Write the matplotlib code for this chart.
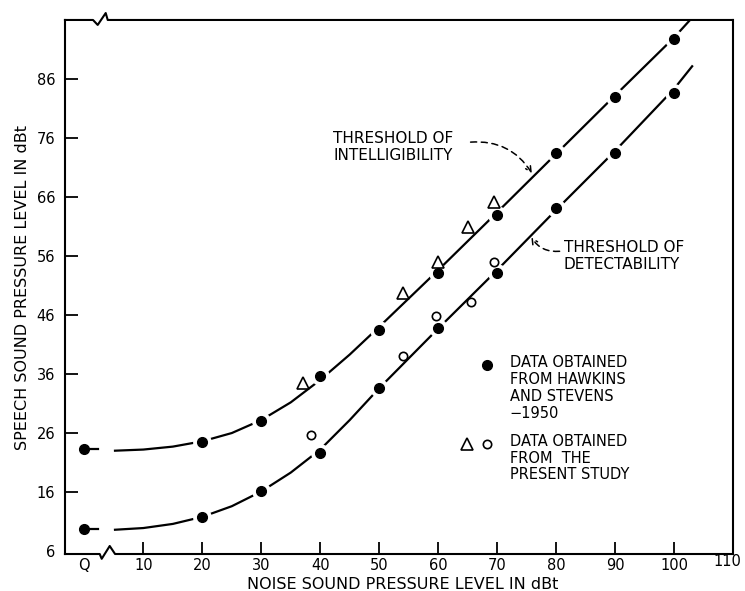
import matplotlib.pyplot as plt
import matplotlib.transforms as mtransforms
import numpy as np

# noise level axis (Q = quiet)
x_ticks = [0, 10, 20, 30, 40, 50, 60, 70, 80, 90, 100, 110]
x_labels = ['Q', '10', '20', '30', '40', '50', '60', '70', '80', '90', '100', '110']
y_ticks = [6, 16, 26, 36, 46, 56, 66, 76, 86]

# Hawkins and Stevens 1950 (filled dots)
hs_x = [0, 20, 30, 40, 50, 60, 70, 80, 90, 100]
hs_intel = [23.3, 24.5, 28.0, 35.7, 43.5, 53.1, 62.9, 73.4, 83.0, 92.7]
hs_detect = [9.8, 11.8, 16.2, 22.6, 33.7, 43.8, 53.1, 64.2, 73.5, 83.6]

# present study
tri_x = [37, 54, 60, 65, 69.5]
tri_y = [34.4, 49.7, 55.0, 60.9, 65.1]
circ_x = [38.5, 54, 59.7, 65.6, 69.5]
circ_y = [25.6, 39.0, 45.9, 48.2, 55.0]

# fitted threshold curves
fit_x = [5, 10, 15, 20, 25, 30, 35, 40, 45, 50, 60, 70, 80, 90, 100]
intel_fit = [23.0, 23.2, 23.7, 24.6, 26.0, 28.2, 31.2, 35.0, 39.3, 44.0, 53.6, 63.4, 73.3, 83.2, 93.0]
detect_fit = [9.6, 9.9, 10.6, 11.8, 13.6, 16.1, 19.3, 23.2, 28.2, 33.6, 43.7, 53.6, 63.8, 73.8, 84.3]
intel_end = (103, 96.3)
detect_end = (103.2, 88.3)

plt.rcParams['font.family'] = ['DejaVu Sans']
fig = plt.figure(figsize=(7.45, 5.91), dpi=100)
ax = fig.add_axes([0.0872, 0.0626, 0.8966, 0.9036])
ax.set_xlim(-3.3, 110)
ax.set_ylim(5.5, 96)

lw = 1.6
ax.plot(fit_x + [intel_end[0]], intel_fit + [intel_end[1]], color='black', lw=lw, zorder=2,
        solid_capstyle='butt')
ax.plot(fit_x + [detect_end[0]], detect_fit + [detect_end[1]], color='black', lw=lw, zorder=2,
        solid_capstyle='butt')
# short dashes beside the quiet points
ax.plot([0, 2.3], [hs_intel[0], hs_intel[0]], color='black', lw=lw, zorder=2)
ax.plot([0, 2.3], [hs_detect[0], hs_detect[0]], color='black', lw=lw, zorder=2)

# white halos break the curves around the dots
ax.plot(hs_x[1:], hs_intel[1:], 'o', ms=12.5, color='white', zorder=3)
ax.plot(hs_x[1:], hs_detect[1:], 'o', ms=12.5, color='white', zorder=3)
ax.plot(hs_x, hs_intel, 'o', ms=7, color='black', zorder=4)
ax.plot(hs_x, hs_detect, 'o', ms=7, color='black', zorder=4)
ax.plot(tri_x, tri_y, '^', ms=8, mfc='white', mec='black', mew=1.2, zorder=4)
ax.plot(circ_x, circ_y, 'o', ms=6, mfc='white', mec='black', mew=1.2, zorder=4)

# annotations
ax.text(42.2, 74.5, 'THRESHOLD OF\nINTELLIGIBILITY', fontsize=11, ha='left', va='center')
ax.annotate('', xy=(75.9, 70.0), xytext=(65.5, 75.3),
            arrowprops=dict(arrowstyle='->', color='black', lw=1.1, linestyle=(0, (4, 3)),
                            connectionstyle='arc3,rad=-0.3', shrinkA=0, shrinkB=0))
ax.text(81.3, 56.0, 'THRESHOLD OF\nDETECTABILITY', fontsize=11, ha='left', va='center')
ax.annotate('', xy=(75.8, 59.2), xytext=(80.6, 56.8),
            arrowprops=dict(arrowstyle='->', color='black', lw=1.1, linestyle=(0, (4, 3)),
                            connectionstyle='arc3,rad=-0.3', shrinkA=0, shrinkB=0))

# key
ax.plot([0.632], [0.353], 'o', ms=7, color='black', transform=ax.transAxes, clip_on=False)
ax.text(0.666, 0.372, 'DATA OBTAINED\nFROM HAWKINS\nAND STEVENS\n\u22121950', fontsize=10.5,
        ha='left', va='top', transform=ax.transAxes, linespacing=1.15)
ax.plot([0.602], [0.206], '^', ms=8, mfc='white', mec='black', mew=1.2,
        transform=ax.transAxes, clip_on=False)
ax.plot([0.632], [0.206], 'o', ms=6, mfc='white', mec='black', mew=1.2,
        transform=ax.transAxes, clip_on=False)
ax.text(0.666, 0.225, 'DATA OBTAINED\nFROM  THE\nPRESENT STUDY', fontsize=10.5,
        ha='left', va='top', transform=ax.transAxes, linespacing=1.15)

# frame with broken-axis zigzags
for s in ['top', 'bottom']:
    ax.spines[s].set_visible(False)
for s in ['left', 'right']:
    ax.spines[s].set_linewidth(1.5)
ax.plot([0, 0.042, 0.049, 0.061, 0.064, 1], [1, 1, 0.9907, 1.013, 1.0, 1],
        color='black', lw=1.5, transform=ax.transAxes, clip_on=False)
ax.plot([0, 0.052, 0.055, 0.067, 0.075, 1], [0, 0, -0.009, 0.015, 0, 0],
        color='black', lw=1.5, transform=ax.transAxes, clip_on=False)

ax.set_xticks(x_ticks)
ax.set_xticklabels(x_labels)
ax.set_yticks(y_ticks)
ax.tick_params(direction='in', length=9, width=1.3, labelsize=10.5)
ax.tick_params(axis='x', pad=3)
ax.tick_params(axis='y', pad=7)
for t in (ax.xaxis.get_major_ticks()[0], ax.xaxis.get_major_ticks()[-1],
          ax.yaxis.get_major_ticks()[0]):
    t.tick1line.set_visible(False)
# nudge the last label inside the figure
lab110 = ax.get_xticklabels()[-1]
lab110.set_transform(lab110.get_transform() +
                     mtransforms.ScaledTranslation(-4 / 72, 3 / 72, fig.dpi_scale_trans))

fig.text(0.541, 0.004, 'NOISE SOUND PRESSURE LEVEL IN dBt', fontsize=11.5,
         ha='center', va='baseline')
fig.text(0.030, 0.514, 'SPEECH SOUND PRESSURE LEVEL IN dBt', fontsize=11.5,
         ha='center', va='center', rotation=90)

fig.savefig('out.png', dpi=100)
